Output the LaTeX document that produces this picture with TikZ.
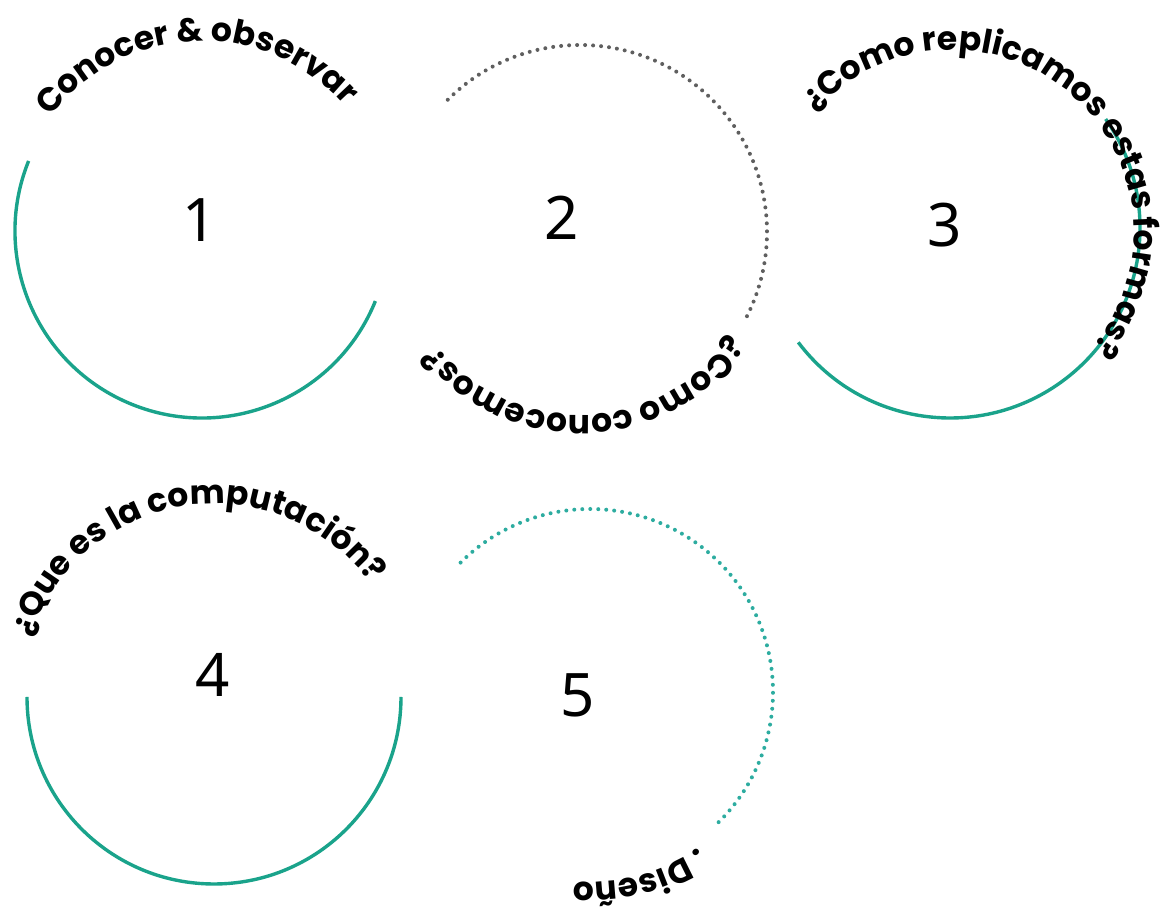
\documentclass[tikz,border=0pt]{standalone}
\usepackage{fontspec}
\setmainfont{Noto Sans}
\newfontfamily\arcfont{Poppins}
\usepackage{tikz}
\usetikzlibrary{decorations.text}
\definecolor{ringteal}{RGB}{26,163,139}
\definecolor{dotteal}{RGB}{45,172,160}
\definecolor{dotgray}{RGB}{95,95,95}
\newcommand\arcstyle{\arcfont\bfseries\fontsize{33}{33}\selectfont}

\begin{document}
\begin{tikzpicture}[x=1pt,y=1pt,
    ring/.style={draw=ringteal,line width=3.4pt},
    dotring/.style={draw=#1,line width=4pt,line cap=round,dash pattern=on 0pt off 8pt},
    number/.style={font=\fontsize{60}{60}\selectfont,inner sep=0pt},
    arctext/.style={decorate,decoration={text along path,text align=center,text={|\arcstyle|#1}}}]
    \useasboundingbox (0,0) rectangle (1163,909);

    \coordinate (c1) at (202,678);
    \coordinate (c2) at (580,677);
    \coordinate (c3) at (950,681);
    \coordinate (c4) at (214,212);
    \coordinate (c5) at (590,217);

    \node[number] (n1) at (200,689) {1};
    \node[number] (n2) at (562,691) {2};
    \node[number] (n3) at (945,684) {3};
    \node[number] (n4) at (213,234) {4};
    \node[number] (n5) at (578,214) {5};

    \draw[ring] ([shift={(158:187)}]c1) arc[start angle=158,end angle=338,radius=187];
    \draw[dotring=dotgray] ([shift={(135:187)}]c2) arc[start angle=135,end angle=-29,radius=187];
    \draw[ring] ([shift={(217:190)}]c3) arc[start angle=217,end angle=395,radius=190];
    \draw[ring] ([shift={(180:187)}]c4) arc[start angle=180,end angle=360,radius=187];
    \draw[dotring=dotteal] ([shift={(135:183)}]c5) arc[start angle=135,end angle=-47,radius=183];

    \path[arctext={Conocer {\&} observar}] ([shift={(173:190)}]c1) arc[start angle=173,end angle=11,radius=190];
    \path[arctext={¿Como conocemos?}] ([shift={(-8:183)}]c2) arc[start angle=-8,end angle=-168,radius=183];
    \path[arctext={¿Como replicamos estas formas?}] ([shift={(164.5:182)}]952,677) arc[start angle=164.5,end angle=-65.5,radius=182];
    \path[arctext={¿Que es la computación?}] ([shift={(187:193)}]c4) arc[start angle=187,end angle=11,radius=193];
    \path[arctext={. Diseño}] ([shift={(0:190)}]c5) arc[start angle=0,end angle=-150,radius=190];
\end{tikzpicture}
\end{document}
